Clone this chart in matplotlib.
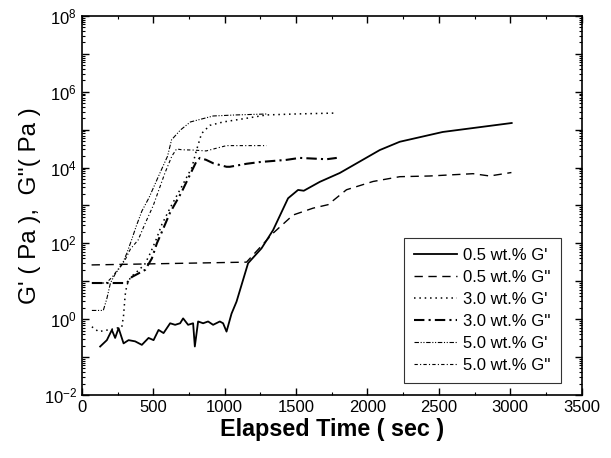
import math

import matplotlib

matplotlib.use("Agg")
import matplotlib.pyplot as plt
from matplotlib.ticker import FixedLocator, FuncFormatter, MultipleLocator, LogLocator, NullFormatter

plt.rcParams["font.family"] = ["Liberation Sans", "DejaVu Sans"]
plt.rcParams["mathtext.fontset"] = "custom"
plt.rcParams["mathtext.rm"] = "Liberation Sans"

# 0.5 wt.% G'
t_05_gp = [128, 175, 210, 233, 257, 292, 327, 373, 420, 467, 502, 537, 572, 618, 653, 688, 709, 744,
           779, 791, 814, 849, 884, 919, 966, 989, 1013, 1048, 1083, 1164, 1258, 1339, 1444, 1514,
           1554, 1666, 1806, 2086, 2226, 2527, 3010]
g_05_gp = [0.19, 0.28, 0.52, 0.32, 0.58, 0.23, 0.28, 0.26, 0.21, 0.32, 0.28, 0.52, 0.43, 0.78, 0.71,
           0.78, 1.05, 0.71, 0.78, 0.19, 0.87, 0.78, 0.87, 0.71, 0.87, 0.78, 0.47, 1.4, 2.9, 30, 74,
           224, 1550, 2570, 2450, 4200, 7200, 2.9e4, 4.8e4, 8.7e4, 1.5e5]

# 0.5 wt.% G''
t_05_gpp = [68, 1153, 1250, 1339, 1479, 1619, 1724, 1853, 2039, 2226, 2436, 2739, 2856, 3008]
g_05_gpp = [27, 32, 80, 186, 560, 850, 1050, 2600, 4300, 5750, 6000, 6900, 6000, 7400]

# 3.0 wt.% G'
t_30_gp = [70, 117, 230, 280, 292, 303, 315, 340, 400, 440, 480, 520, 560, 620, 700, 770, 803, 838,
           896, 990, 1153, 1293, 1500, 1785]
g_30_gp = [0.63, 0.47, 0.56, 0.63, 1.26, 4.3, 7.9, 12.6, 20, 28, 56, 126, 316, 890, 3200, 1e4,
           2.9e4, 7.9e4, 1.3e5, 1.6e5, 2e5, 2.45e5, 2.6e5, 2.75e5]

# 3.0 wt.% G''
t_30_gpp = [70, 315, 350, 443, 490, 525, 560, 616, 698, 768, 800, 826, 870, 920, 1013, 1036, 1153,
            1246, 1433, 1526, 1713, 1785]
g_30_gpp = [9, 9, 13, 20, 40, 100, 200, 630, 2240, 7900, 1.4e4, 1.8e4, 1.6e4, 1.3e4, 1.05e4,
            1.05e4, 1.26e4, 1.4e4, 1.6e4, 1.8e4, 1.66e4, 1.8e4]

# 5.0 wt.% G'
t_50_gp = [70, 150, 175, 200, 235, 280, 315, 348, 380, 420, 470, 546, 600, 628, 690, 760, 920, 1080, 1300]
g_50_gp = [1.7, 1.7, 3.5, 9, 16, 27, 55, 123, 280, 710, 1600, 7100, 2e4, 5.4e4, 9.8e4, 1.6e5,
           2.3e5, 2.45e5, 2.6e5]

# 5.0 wt.% G''
t_50_gpp = [70, 170, 210, 250, 300, 340, 394, 440, 500, 581, 630, 663, 700, 780, 870, 950, 1013, 1150, 1293]
g_50_gpp = [9, 9, 12.6, 20, 35, 71, 123, 316, 1000, 7100, 2e4, 3.1e4, 2.95e4, 2.9e4, 2.75e4, 3.3e4,
            3.8e4, 3.8e4, 3.8e4]

series = [
    (t_05_gp, g_05_gp, "0.5 wt.% G'", "-", 1.3),
    (t_05_gpp, g_05_gpp, "0.5 wt.% G''", (0, (6, 4)), 1.0),
    (t_30_gp, g_30_gp, "3.0 wt.% G'", (0, (1, 2.5)), 1.1),
    (t_30_gpp, g_30_gpp, "3.0 wt.% G''", (0, (5, 2, 1, 2)), 1.5),
    (t_50_gp, g_50_gp, "5.0 wt.% G'", (0, (4, 1.5, 1, 1.5, 1, 1.5)), 0.8),
    (t_50_gpp, g_50_gpp, "5.0 wt.% G''", (0, (3, 2, 1, 2)), 0.8),
]

fig = plt.figure(figsize=(6.11, 4.58), dpi=100)
ax = fig.add_axes([0.134, 0.1376, 0.818, 0.8275])

for t, g, label, ls, lw in series:
    ax.plot(t, g, color="black", linestyle=ls, linewidth=lw, label=label)

ax.set_yscale("log")
ax.set_xlim(0, 3500)
ax.set_ylim(1e-2, 1e8)

ax.xaxis.set_major_locator(MultipleLocator(500))
ax.xaxis.set_minor_locator(MultipleLocator(250))
ax.yaxis.set_major_locator(FixedLocator([10.0 ** k for k in range(-2, 9)]))
ax.yaxis.set_minor_locator(LogLocator(base=10, subs=range(2, 10), numticks=20))
ax.yaxis.set_minor_formatter(NullFormatter())


def even_decades(v, pos):
    k = int(round(math.log10(v)))
    return rf"$\mathregular{{10^{{{k}}}}}$" if k % 2 == 0 else ""


ax.yaxis.set_major_formatter(FuncFormatter(even_decades))

ax.tick_params(which="both", direction="in", top=True, right=True, labelsize=12)
ax.tick_params(which="major", length=5, width=1.0)
ax.tick_params(which="minor", length=2.5, width=0.8)
for s in ax.spines.values():
    s.set_linewidth(1.2)

ax.set_xlabel("Elapsed Time ( sec )", fontsize=16.8, fontweight="bold", labelpad=2)
ax.set_ylabel("G' ( Pa ),  G''( Pa )", fontsize=17.5, labelpad=2)

leg = ax.legend(loc="lower right", bbox_to_anchor=(0.958, 0.032), borderaxespad=0, fontsize=12,
                frameon=True, fancybox=False, edgecolor="black", handlelength=2.6,
                handletextpad=0.35, labelspacing=0.42, borderpad=0.6)
leg.get_frame().set_linewidth(0.8)

fig.savefig("out.png", dpi=100)
